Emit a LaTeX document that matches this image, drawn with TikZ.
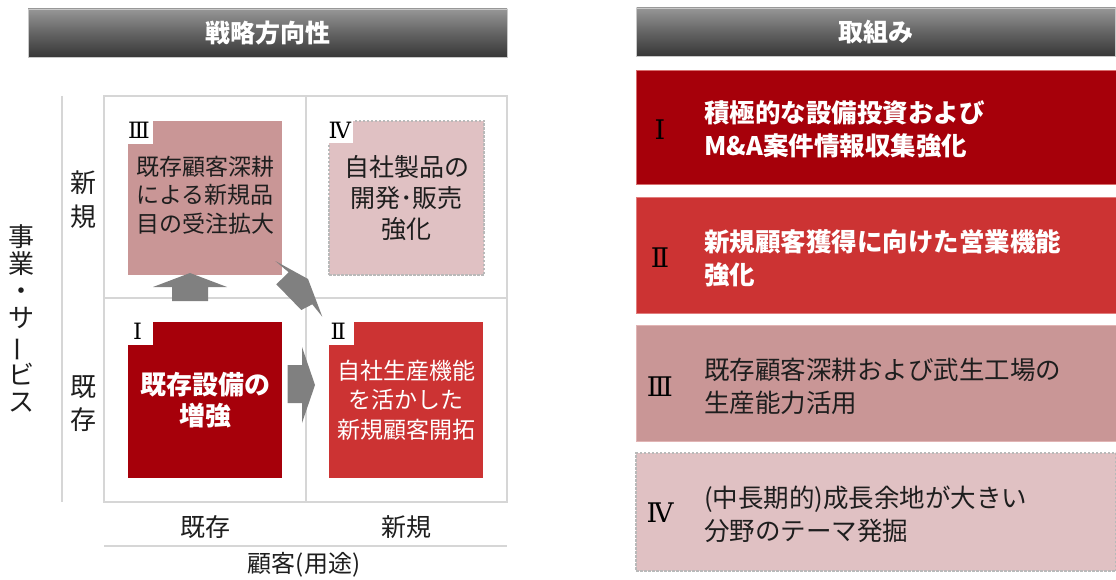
\documentclass[tikz,border=0pt]{standalone}
\usepackage{fontspec}
\setmainfont{Noto Sans CJK JP}
\newfontfamily\romfont{DejaVu Serif}
\definecolor{dred}{RGB}{166,0,10}
\definecolor{mred}{RGB}{204,51,51}
\definecolor{rose}{RGB}{201,150,150}
\definecolor{pale}{RGB}{224,193,195}
\definecolor{gridc}{RGB}{214,214,214}
\definecolor{arrowc}{RGB}{128,128,128}
\definecolor{hdtop}{RGB}{150,150,150}
\definecolor{hdmid}{RGB}{100,100,100}
\definecolor{hdbot}{RGB}{55,55,55}
\definecolor{hdedge}{RGB}{200,200,200}
\definecolor{txt}{RGB}{30,30,30}
\definecolor{dashc}{RGB}{185,185,185}
\definecolor{edge1}{RGB}{215,110,110}
\definecolor{edge2}{RGB}{225,125,125}
\definecolor{edge3}{RGB}{225,180,180}
\tikzset{
  hdr/.style={top color=hdtop, bottom color=hdbot, middle color=hdmid, draw=hdedge, line width=0.8pt,
    text=white, inner sep=0pt, minimum height=48pt, font=\bfseries\fontsize{25}{28}\selectfont},
  rbox/.style={minimum width=480pt, inner sep=0pt},
  qbox/.style={inner sep=0pt, align=center},
  notchbox/.style={fill=white, minimum width=25pt, minimum height=23pt, inner sep=0pt, anchor=north west},
  qnum/.style={font=\romfont\fontsize{22.5}{22.5}\selectfont, text=black, inner sep=0pt, anchor=north west},
  rnum/.style={font=\romfont\fontsize{27}{27}\selectfont, text=black, inner sep=0pt},
  rtext/.style={anchor=west, align=left, inner sep=0pt, font=\fontsize{25.5}{33}\selectfont},
  gridline/.style={draw=gridc, line width=1.5pt},
  blockarrow/.style={fill=arrowc},
  axlabel/.style={align=center, inner sep=0pt, text=txt},
  dashedbox/.style={draw=dashc, line width=1.2pt, dash pattern=on 2.5pt off 1.5pt}
}
\begin{document}
\begin{tikzpicture}[x=1pt,y=-1pt]
\useasboundingbox[fill=white] (0,0) rectangle (1116,580);

% headers
\node[hdr, minimum width=479pt] (h1) at (267.5,33) {戦略方向性};
\node[hdr, minimum width=479pt] (h2) at (876,32) {取組み};

% grid
\draw[gridline] (104,96) rectangle (507,502);
\draw[gridline] (306,96) -- (306,502);
\draw[gridline] (104,298) -- (507,298);
\draw[gridline] (62,96) -- (62,502);
\draw[gridline] (104,546) -- (507,546);

% axis labels
\node[axlabel, font=\fontsize{26}{34}\selectfont] (ynew) at (83,200) {新\\規};
\node[axlabel, font=\fontsize{26}{33}\selectfont] (yold) at (83,403.5) {既\\存};
\node[axlabel, font=\fontsize{26}{27}\selectfont] (yaxis) at (22,318.5) {事\\業\\・\\サ\\\rotatebox[origin=c]{90}{ー}\\ビ\\ス};
\node[axlabel, font=\fontsize{25}{28}\selectfont] (xold) at (205,527) {既存};
\node[axlabel, font=\fontsize{25}{28}\selectfont] (xnew) at (406,527) {新規};
\node[axlabel, font=\fontsize{24}{28}\selectfont] (xaxis) at (304,565) {顧客(用途)};

% quadrant boxes
\node[qbox, fill=rose, minimum width=154pt, minimum height=154pt, text=txt,
  font=\fontsize{23}{28.5}\selectfont] (q3) at (205,198) {\raisebox{-3pt}{\begin{tabular}{@{}c@{}}既存顧客深耕\\[0pt]による新規品\\目の受注拡大\end{tabular}}};
\node[qbox, fill=pale, dashedbox, minimum width=155pt, minimum height=154pt, text=txt,
  font=\fontsize{25}{31}\selectfont] (q4) at (406.5,198) {自社製品の\\開発･販売\\強化};
\node[qbox, fill=dred, minimum width=154pt, minimum height=156pt, text=white,
  font=\bfseries\fontsize{26}{31}\selectfont] (q1) at (205,400) {既存設備の\\増強};
\node[qbox, fill=mred, minimum width=154pt, minimum height=156pt, text=white,
  font=\fontsize{23}{29.5}\selectfont] (q2) at (406,400) {自社生産機能\\を活かした\\新規顧客開拓};

% notches with numerals
\node[notchbox] (n3) at (q3.north west) {};
\node[qnum] (l3) at ([shift={(0,1)}]q3.north west) {Ⅲ};
\node[notchbox] (n4) at ([shift={(-1,-1)}]q4.north west) {};
\node[qnum] (l4) at ([shift={(0,1)}]q4.north west) {Ⅳ};
\node[notchbox] (n1) at (q1.north west) {};
\node[qnum] (l1) at ([shift={(5,1)}]q1.north west) {Ⅰ};
\node[notchbox] (n2) at (q2.north west) {};
\node[qnum] (l2) at ([shift={(1.5,1)}]q2.north west) {Ⅱ};

% block arrows
\fill[blockarrow] (172,301) -- (172,287) -- (153,287) -- (190,273) -- (227,287) -- (208,287) -- (208,301) -- cycle;
\fill[blockarrow] (287.5,365) -- (302,365) -- (302,347) -- (315,385) -- (302,423) -- (302,403) -- (287.5,403) -- cycle;
\fill[blockarrow] (275.3,261) -- (308,279) -- (322.3,316.7) -- (312.3,304.3) -- (301.3,310) -- (276.3,284.3) -- (288.7,272.3) -- cycle;

% right boxes
\node[rbox, fill=dred, draw=edge1, line width=0.8pt, minimum height=114pt] (r1) at (876,127) {};
\node[rbox, fill=mred, draw=edge2, line width=0.8pt, minimum height=116pt] (r2) at (876,255) {};
\node[rbox, fill=rose, draw=edge3, line width=0.8pt, minimum height=116pt] (r3) at (876,383) {};
\node[rbox, fill=pale, dashedbox, minimum height=118pt] (r4) at (876,512) {};

\node[rnum] (rn1) at (660,130) {Ⅰ};
\node[rnum] (rn2) at (660,258) {Ⅱ};
\node[rnum] (rn3) at (660,387) {Ⅲ};
\node[rnum] (rn4) at (660,513) {Ⅳ};

\node[rtext, text=white, font=\bfseries\fontsize{25.5}{33}\selectfont] (t1) at (704,129.5) {積極的な設備投資および\\M\&A案件情報収集強化};
\node[rtext, text=white, font=\bfseries\fontsize{25.5}{33}\selectfont] (t2) at (704,258.5) {新規顧客獲得に向けた営業機能\\強化};
\node[rtext, text=txt] (t3) at (704,386.5) {既存顧客深耕および武生工場の\\生産能力活用};
\node[rtext, text=txt] (t4) at (704,514) {(中長期的)成長余地が大きい\\分野のテーマ発掘};
\end{tikzpicture}
\end{document}
